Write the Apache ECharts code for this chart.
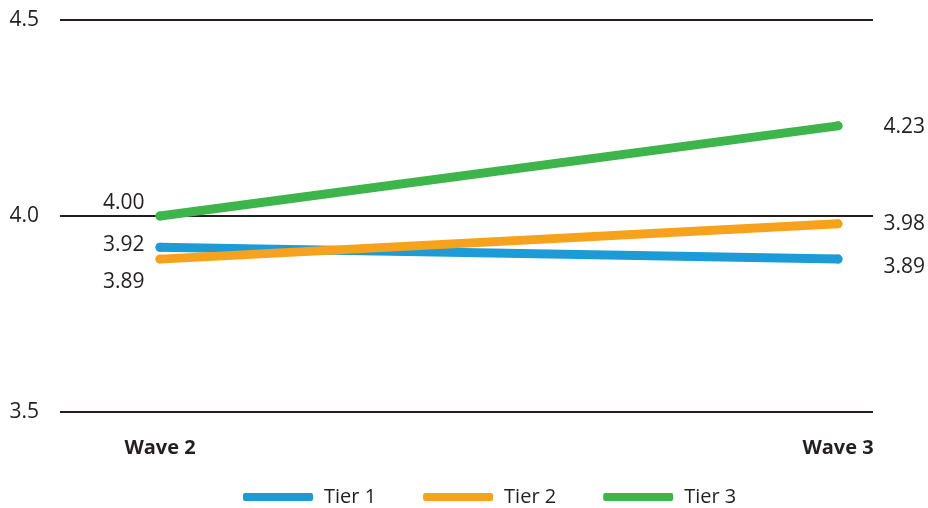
<!DOCTYPE html>
<html>
<head>
<meta charset="utf-8">
<script src="https://cdn.jsdelivr.net/npm/echarts@6/dist/echarts.min.js"></script>
<style>
  html, body { margin: 0; padding: 0; background: #fff; }
  #chart { width: 928px; height: 508px; }
</style>
</head>
<body>
<div id="chart"></div>
<script>
// Survey waves and mean scores per tier
const waves = ['Wave 2', 'Wave 3'];
const tier1 = [3.92, 3.89];
const tier2 = [3.89, 3.98];
const tier3 = [4.00, 4.23];
const seriesNames = ['Tier 1', 'Tier 2', 'Tier 3'];
const colors = ['#1d9bd7', '#f7a21c', '#3db54a'];

const FONT = '"Open Sans", "Noto Sans", sans-serif';
const TEXT = '#231f20';

// Label placement per point: [side, dy] for wave 2 and wave 3
const labelPlacement = [
  [['left', -2], ['right', 8]],
  [['left', 23], ['right', 0]],
  [['left', -13], ['right', 1]]
];

function buildData(values, idx) {
  return values.map((v, i) => {
    const [side, dy] = labelPlacement[idx][i];
    return {
      value: v,
      label: {
        show: true,
        position: side,
        distance: side === 'left' ? 11 : 41,
        offset: [0, dy],
        formatter: p => p.value.toFixed(2),
        color: TEXT,
        fontFamily: FONT,
        fontSize: 21
      }
    };
  });
}

const chart = echarts.init(document.getElementById('chart'), null, { renderer: 'canvas' });

chart.setOption({
  animation: false,
  backgroundColor: '#fff',
  color: colors,
  grid: [
    // grid 0: horizontal rules and value labels
    { left: 60, right: 55, top: 20, bottom: 96 },
    // grid 1: the plotted lines
    { left: 160, right: 90, top: 20, bottom: 96 }
  ],
  xAxis: [
    { gridIndex: 0, type: 'value', show: false, min: 0, max: 1 },
    {
      gridIndex: 1,
      type: 'category',
      data: waves,
      boundaryGap: false,
      axisLine: { show: false },
      axisTick: { show: false },
      axisLabel: {
        margin: 26,
        color: TEXT,
        fontFamily: FONT,
        fontWeight: 'bold',
        fontSize: 20
      }
    }
  ],
  yAxis: [
    {
      gridIndex: 0,
      type: 'value',
      min: 3.5,
      max: 4.5,
      interval: 0.5,
      axisLine: { show: false },
      axisTick: { show: false },
      splitLine: { lineStyle: { color: '#231f20', width: 2 } },
      axisLabel: {
        margin: 21,
        color: TEXT,
        fontFamily: FONT,
        fontSize: 21,
        formatter: v => v.toFixed(1)
      }
    },
    {
      gridIndex: 1,
      type: 'value',
      min: 3.5,
      max: 4.5,
      interval: 0.5,
      show: false,
      splitLine: { show: false }
    }
  ],
  legend: {
    bottom: -4,
    left: 238,
    data: seriesNames,
    icon: 'roundRect',
    itemWidth: 70,
    itemHeight: 8,
    itemGap: 47,
    textStyle: { color: TEXT, fontFamily: FONT, fontSize: 20, padding: [0, 0, 0, 6] }
  },
  series: [tier1, tier2, tier3].map((vals, i) => ({
    name: seriesNames[i],
    type: 'line',
    xAxisIndex: 1,
    yAxisIndex: 1,
    data: buildData(vals, i),
    symbol: 'circle',
    symbolSize: 9,
    showSymbol: true,
    lineStyle: { width: 9, cap: 'round', color: colors[i] },
    itemStyle: { color: colors[i], borderWidth: 0 },
    z: 3
  }))
});
</script>
</body>
</html>
